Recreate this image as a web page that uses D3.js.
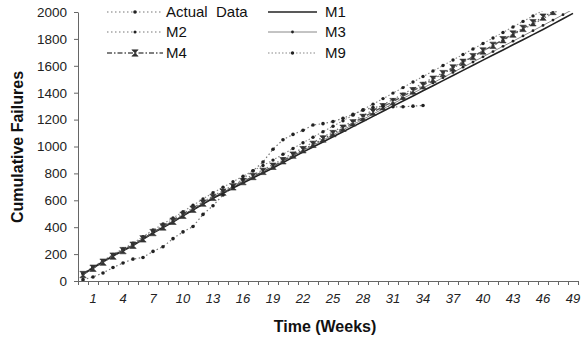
<!DOCTYPE html>
<html><head><meta charset="utf-8">
<script src="https://cdn.jsdelivr.net/npm/d3@7"></script>
<style>
body{margin:0;background:#fff;}
svg{font-family:"Liberation Sans",Arial,sans-serif;}
</style></head><body>
<svg id="c" width="585" height="341"></svg>
<script>
const weeks = d3.range(0, 50);
const xTickLabels = [1,4,7,10,13,16,19,22,25,28,31,34,37,40,43,46,49];
const yTicks = [0,200,400,600,800,1000,1200,1400,1600,1800,2000];

const actualData = [10,30,60,100,134,163,175,220,255,315,365,405,495,560,640,700,760,820,885,980,1050,1090,1120,1160,1170,1185,1210,1240,1270,1290,1300,1295,1295,1300,1305];
const m1 = [50,97,142,186,225,264,310,357,398,439,484,528,572,615,653,691,729,766,803,840,880,920,958,996,1034,1072,1110,1148,1186,1224,1262,1300,1338,1376,1414,1452,1490,1528,1566,1604,1642,1680,1718,1756,1794,1832,1870,1910,1950,1990];
const m2 = [55,103,149,194,234,274,321,369,411,453,499,544,589,633,672,711,750,789,827,866,908,950,990,1030,1070,1110,1150,1190,1230,1270,1310,1350,1390,1430,1470,1510,1550,1590,1630,1670,1710,1750,1790,1830,1870,1910,1950,1990,2030,2070];
const m3 = [52,99,145,189,229,268,314,361,403,444,489,534,578,621,660,698,737,774,812,850,890,931,970,1008,1047,1086,1124,1163,1202,1241,1280,1318,1357,1396,1435,1473,1512,1551,1590,1628,1667,1706,1745,1783,1822,1861,1900,1940,1980,2020];
const m4 = [48,95,140,185,226,266,313,360,402,444,489,534,579,622,661,700,739,777,815,853,894,936,976,1016,1056,1096,1136,1176,1216,1256,1296,1334,1374,1414,1454,1500,1542,1584,1626,1668,1710,1752,1794,1836,1878,1920,1962,2004,2046,2088];
const m9 = [55,104,151,197,239,281,330,380,424,468,516,563,610,656,697,738,779,819,859,899,942,985,1028,1069,1110,1151,1192,1233,1274,1315,1356,1397,1438,1479,1520,1561,1602,1643,1684,1725,1766,1807,1848,1889,1930,1971,2012,2053,2094,2135];

const seriesNames = ["Actual  Data","M1","M2","M3","M4","M9"];
const seriesValues = [actualData, m1, m2, m3, m4, m9];

const styles = {
  "Actual  Data": {stroke:"#777", width:1.2, dash:"1.5,2.5", marker:"dot", mr:1.8},
  "M1": {stroke:"#222", width:1.6, dash:null, marker:null},
  "M2": {stroke:"#777", width:1.2, dash:"1.5,2.5", marker:"dot", mr:1.5},
  "M3": {stroke:"#888", width:1, dash:null, marker:"dot", mr:1.4},
  "M4": {stroke:"#555", width:1.3, dash:"5,2,1.5,2", marker:"bowtie", mr:3.2},
  "M9": {stroke:"#888", width:1.1, dash:"1.5,2", marker:"dot", mr:1.7}
};

const svg = d3.select("#c");
const pLeft = 78, pRight = 578, pTop = 12, pBottom = 281;

const xBand = d3.scaleBand().domain(weeks).range([pLeft, pRight]);
const xEdge = d3.scaleLinear().domain([0, 50]).range([pLeft, pRight]);
const y = d3.scaleLinear().domain([0, 2000]).range([pBottom, pTop]);
const xc = w => xBand(w) + xBand.bandwidth() / 2;

svg.append("defs").append("clipPath").attr("id","clip")
  .append("rect").attr("x", pLeft).attr("y", pTop - 1).attr("width", pRight - pLeft + 2).attr("height", pBottom - pTop + 1);

// axes
const yAxis = svg.append("g").attr("transform", `translate(${pLeft},0)`)
  .call(d3.axisLeft(y).tickValues(yTicks).tickFormat(d3.format("d")).tickSize(4).tickPadding(7).tickSizeOuter(0));
yAxis.selectAll("text").attr("font-size", 13.5).attr("fill", "#222");
yAxis.selectAll("line,path").attr("stroke", "#666");

const xAxisTicks = svg.append("g").attr("transform", `translate(0,${pBottom})`)
  .call(d3.axisBottom(xEdge).tickValues(d3.range(0, 51)).tickSize(4).tickFormat("").tickSizeOuter(0));
xAxisTicks.selectAll("line,path").attr("stroke", "#666");

const xAxisLabels = svg.append("g").attr("transform", `translate(0,${pBottom})`)
  .call(d3.axisBottom(xBand).tickValues(xTickLabels).tickSize(0).tickPadding(13));
xAxisLabels.select(".domain").remove();
xAxisLabels.selectAll("text").attr("font-size", 13).attr("font-style", "italic").attr("fill", "#222");

// titles
svg.append("text").attr("x", 325).attr("y", 332).attr("text-anchor", "middle")
  .attr("font-size", 16).attr("font-weight", "bold").attr("fill", "#111").text("Time (Weeks)");
svg.append("text").attr("transform", "translate(23,147) rotate(-90)").attr("text-anchor", "middle")
  .attr("font-size", 16).attr("font-weight", "bold").attr("fill", "#111").text("Cumulative Failures");

// series
const plot = svg.append("g").attr("clip-path", "url(#clip)");
const line = d3.line().x((d, i) => xc(weeks[i])).y(d => y(d));

function drawMarker(g, type, cx, cy, r) {
  if (type === "dot") {
    g.append("circle").attr("cx", cx).attr("cy", cy).attr("r", r).attr("fill", "#222");
  } else if (type === "bowtie") {
    g.append("path")
      .attr("d", `M${cx - r},${cy - r}L${cx + r},${cy - r}L${cx - r},${cy + r}L${cx + r},${cy + r}Z`)
      .attr("fill", "#333").attr("stroke", "#333").attr("stroke-width", 0.6);
  }
}

const order = ["M9","M2","M3","M1","M4","Actual  Data"];
order.forEach(name => {
  const vals = seriesValues[seriesNames.indexOf(name)];
  const st = styles[name];
  plot.append("path").datum(vals).attr("d", line).attr("fill", "none")
    .attr("stroke", st.stroke).attr("stroke-width", st.width)
    .attr("stroke-dasharray", st.dash);
  if (st.marker) {
    const mg = plot.append("g");
    vals.forEach((v, i) => { if (v <= 2010) drawMarker(mg, st.marker, xc(weeks[i]), y(v), st.mr); });
  }
});

// legend
const legendItems = [
  {name:"Actual  Data", x1:107, x2:163, tx:166, y:12},
  {name:"M2", x1:107, x2:163, tx:166, y:32},
  {name:"M4", x1:107, x2:163, tx:166, y:53},
  {name:"M1", x1:268, x2:317, tx:325, y:12},
  {name:"M3", x1:268, x2:317, tx:325, y:32},
  {name:"M9", x1:268, x2:317, tx:325, y:53}
];
const lg = svg.append("g");
legendItems.forEach(it => {
  const st = styles[it.name];
  lg.append("line").attr("x1", it.x1).attr("x2", it.x2).attr("y1", it.y).attr("y2", it.y)
    .attr("stroke", st.stroke).attr("stroke-width", st.width).attr("stroke-dasharray", st.dash);
  if (st.marker) drawMarker(lg, st.marker, (it.x1 + it.x2) / 2, it.y, st.mr);
  lg.append("text").attr("x", it.tx).attr("y", it.y).attr("dy", "0.36em")
    .attr("font-size", 15).attr("fill", "#111").style("white-space", "pre").text(it.name);
});
</script>
</body></html>
